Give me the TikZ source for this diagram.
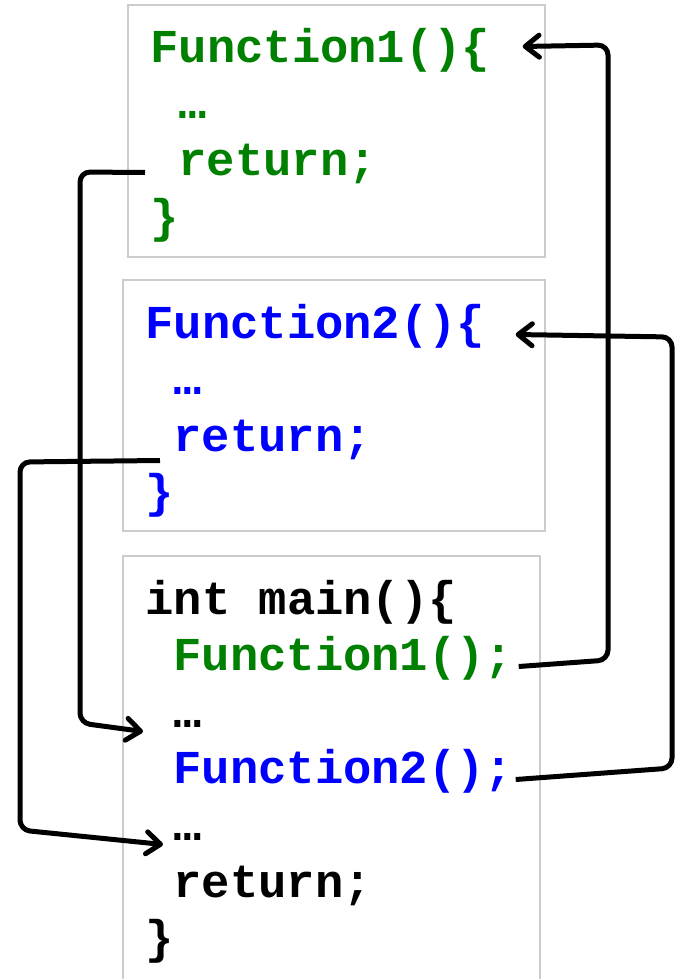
\documentclass[tikz,border=0pt]{standalone}
\usepackage{fontspec}
\setmonofont{Liberation Mono}
\usetikzlibrary{arrows.meta}

\definecolor{fgreen}{RGB}{0,128,0}
\definecolor{fblue}{RGB}{0,0,255}
\definecolor{frame}{RGB}{204,204,204}

\tikzset{
  code/.style={font=\ttfamily\bfseries\fontsize{23.6}{28}\selectfont,
    inner sep=0pt, text height=0.55em, text depth=0.2em, anchor=base west},
  box/.style={draw=frame, line width=1pt},
  jump/.style={draw=black, line width=2.5pt, rounded corners=5pt,
    -{Straight Barb[length=7pt,width=11pt,line cap=round,line join=round]}}
}

\begin{document}
\begin{tikzpicture}[x=0.5pt,y=-0.5pt]
      \useasboundingbox (0,0) rectangle (681,979);

      % Function1
      \draw[box] (128,5) rectangle (545,257);
      \node[code, fgreen] (f1head) at (150,63) {Function1()\{};
      \node[code, fgreen] (f1dots) at (178,119) {…};
      \node[code, fgreen] (f1ret) at (178,176) {return;};
      \node[code, fgreen] (f1end) at (150,232) {\}};

      % Function2
      \draw[box] (123,280) rectangle (545,531);
      \node[code, fblue] (f2head) at (145,338) {Function2()\{};
      \node[code, fblue] (f2dots) at (173,394) {…};
      \node[code, fblue] (f2ret) at (173,451) {return;};
      \node[code, fblue] (f2end) at (145,507) {\}};

      % main
      \draw[box] (123,979) -- (123,556) -- (540,556) -- (540,979);
      \node[code] (mainhead) at (145,614) {int main()\{};
      \node[code, fgreen] (call1) at (173,670) {Function1();};
      \node[code] (back1) at (173,727) {…};
      \node[code, fblue] (call2) at (173,783) {Function2();};
      \node[code] (back2) at (173,840) {…};
      \node[code] (mainret) at (173,897) {return;};
      \node[code] (mainend) at (145,953) {\}};

      % calls
      \draw[jump] ([xshift=2.5pt]call1.east) -- (608,660) -- (608,45)
        -- ([xshift=16pt,yshift=6.5pt]f1head.east);
      \draw[jump] ([xshift=1pt]call2.east) -- (672,768) -- (672,337)
        -- ([xshift=15pt]f2head.east);

      % returns
      \draw[jump] ([xshift=-16.5pt]f1ret.west) -- (80,172) -- (80,723)
        -- ([xshift=-15pt,yshift=-4pt]back1.west);
      \draw[jump] ([xshift=-6.5pt,yshift=-6.5pt]f2ret.west) -- (20,462) -- (20,830)
        -- ([xshift=-5pt,yshift=-4pt]back2.west);
    \end{tikzpicture}
\end{document}
